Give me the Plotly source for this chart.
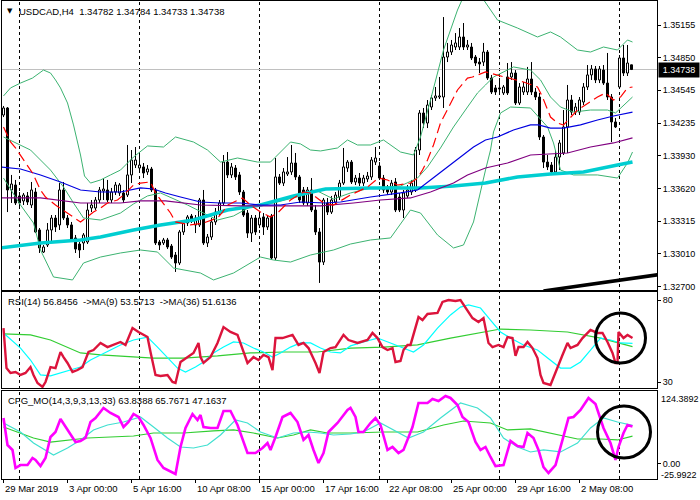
import plotly.graph_objects as go

# ---------------- data ----------------
symbol = "USDCAD,H4"

open_ = [1.34311, 1.34377, 1.33608, 1.33655, 1.33552, 1.33505, 1.33552, 1.33467, 1.33589, 1.33233,
         1.33026, 1.33092, 1.33233, 1.33345, 1.33280, 1.33608, 1.33345, 1.33280, 1.33158, 1.33101,
         1.33111, 1.33120, 1.33439, 1.33439, 1.33514, 1.33598, 1.33608, 1.33514, 1.33589, 1.33580,
         1.33580, 1.33561, 1.33749, 1.33842, 1.33814, 1.33824, 1.33777, 1.33805, 1.33608, 1.33120,
         1.33111, 1.33139, 1.33082, 1.32998, 1.32923, 1.33214, 1.33298, 1.33364, 1.33280, 1.33280,
         1.33514, 1.33111, 1.33167, 1.33308, 1.33401, 1.33486, 1.33870, 1.33749, 1.33814, 1.33749,
         1.33589, 1.33392, 1.33204, 1.33345, 1.33280, 1.33355, 1.33261, 1.33364, 1.32970, 1.33730,
         1.33673, 1.33758, 1.33777, 1.33861, 1.33730, 1.33608, 1.33486, 1.33608, 1.33420, 1.33214,
         1.32932, 1.33486, 1.33401, 1.33495, 1.33542, 1.33673, 1.33814, 1.33870, 1.33683, 1.33720,
         1.33673, 1.33711, 1.33730, 1.33870, 1.33833, 1.33720, 1.33627, 1.33589, 1.33683, 1.33542,
         1.33420, 1.33552, 1.33589, 1.33608, 1.33983, 1.34330, 1.34236, 1.34386, 1.34471, 1.34480,
         1.34480, 1.34855, 1.34902, 1.34949, 1.34949, 1.35043, 1.34949, 1.34949, 1.34855, 1.34808,
         1.34808, 1.34902, 1.34658, 1.34565, 1.34565, 1.34518, 1.34668, 1.34668, 1.34705, 1.34424,
         1.34527, 1.34527, 1.34649, 1.34527, 1.34480, 1.34105, 1.33870, 1.33842, 1.33777, 1.33917,
         1.33955, 1.34199, 1.34452, 1.34339, 1.34339, 1.34433, 1.34574, 1.34687, 1.34743, 1.34640,
         1.34733, 1.34611, 1.34480, 1.34246, 1.34574, 1.34846, 1.34705, 1.34782]
high = [1.34396, 1.34386, 1.33749, 1.33702, 1.33589, 1.33580, 1.33589, 1.33683, 1.33627, 1.33251,
        1.33092, 1.33298, 1.33373, 1.33373, 1.33673, 1.33683, 1.33373, 1.33308, 1.33186, 1.33120,
        1.33204, 1.33486, 1.33514, 1.33542, 1.33636, 1.33720, 1.33702, 1.33627, 1.33683, 1.33673,
        1.33608, 1.34030, 1.33983, 1.34011, 1.33964, 1.33861, 1.33842, 1.33824, 1.33627, 1.33139,
        1.33158, 1.33158, 1.33101, 1.33026, 1.33233, 1.33326, 1.33373, 1.33383, 1.33373, 1.33533,
        1.33608, 1.33195, 1.33345, 1.33439, 1.33514, 1.33936, 1.33964, 1.33861, 1.33842, 1.33777,
        1.33608, 1.33420, 1.33373, 1.33373, 1.33383, 1.33392, 1.33373, 1.33383, 1.33908, 1.33758,
        1.33814, 1.33917, 1.34030, 1.33955, 1.33749, 1.33636, 1.33636, 1.33720, 1.33467, 1.33251,
        1.33533, 1.33533, 1.33552, 1.33589, 1.33702, 1.34002, 1.33889, 1.33889, 1.33749, 1.33767,
        1.33749, 1.33777, 1.33917, 1.34011, 1.33870, 1.33749, 1.33655, 1.33702, 1.33720, 1.33580,
        1.33608, 1.33655, 1.33702, 1.34011, 1.34358, 1.34377, 1.34452, 1.34499, 1.34574, 1.34668,
        1.35230, 1.34987, 1.35015, 1.35080, 1.35127, 1.35174, 1.35015, 1.34987, 1.34874, 1.34846,
        1.34987, 1.34921, 1.34687, 1.34593, 1.34658, 1.34593, 1.34799, 1.34808, 1.34733, 1.34611,
        1.34621, 1.34762, 1.34808, 1.34565, 1.34518, 1.34124, 1.33936, 1.33870, 1.33983, 1.34077,
        1.34358, 1.34593, 1.34499, 1.34424, 1.34480, 1.34611, 1.34780, 1.34780, 1.34771, 1.34771,
        1.34780, 1.34893, 1.34508, 1.34283, 1.34874, 1.34968, 1.34968, 1.34784]
low = [1.34292, 1.33401, 1.33486, 1.33467, 1.33439, 1.33467, 1.33467, 1.33439, 1.33204, 1.33017,
       1.33017, 1.33073, 1.33111, 1.33214, 1.33233, 1.33326, 1.33251, 1.33120, 1.33017, 1.32970,
       1.33045, 1.33101, 1.33401, 1.33420, 1.33486, 1.33514, 1.33495, 1.33486, 1.33561, 1.33552,
       1.33486, 1.33542, 1.33673, 1.33814, 1.33777, 1.33720, 1.33749, 1.33589, 1.33092, 1.33045,
       1.33092, 1.33054, 1.32961, 1.32839, 1.32904, 1.33186, 1.33270, 1.33298, 1.33204, 1.33261,
       1.33092, 1.33073, 1.33139, 1.33280, 1.33373, 1.33467, 1.33720, 1.33720, 1.33702, 1.33561,
       1.33355, 1.33158, 1.33120, 1.33186, 1.33251, 1.33186, 1.33233, 1.32951, 1.32951, 1.33655,
       1.33645, 1.33739, 1.33749, 1.33702, 1.33486, 1.33467, 1.33458, 1.33401, 1.33186, 1.32736,
       1.32904, 1.33373, 1.33383, 1.33467, 1.33514, 1.33655, 1.33777, 1.33664, 1.33655, 1.33645,
       1.33645, 1.33683, 1.33702, 1.33842, 1.33702, 1.33580, 1.33561, 1.33561, 1.33401, 1.33401,
       1.33345, 1.33533, 1.33561, 1.33589, 1.33936, 1.34189, 1.34189, 1.34358, 1.34443, 1.34461,
       1.34377, 1.34808, 1.34874, 1.34921, 1.34921, 1.34921, 1.34921, 1.34827, 1.34771, 1.34705,
       1.34771, 1.34640, 1.34508, 1.34499, 1.34518, 1.34499, 1.34499, 1.34640, 1.34405, 1.34405,
       1.34499, 1.34499, 1.34499, 1.34452, 1.34077, 1.33814, 1.33795, 1.33749, 1.33758, 1.33795,
       1.33936, 1.33955, 1.34311, 1.34311, 1.34311, 1.34405, 1.34546, 1.34640, 1.34611, 1.34611,
       1.34593, 1.34452, 1.34058, 1.34189, 1.34565, 1.34677, 1.34677, 1.34733]
close = [1.34377, 1.33608, 1.33664, 1.33486, 1.33486, 1.33561, 1.33495, 1.33608, 1.33214, 1.33064,
         1.33073, 1.33233, 1.33345, 1.33261, 1.33608, 1.33345, 1.33280, 1.33139, 1.33054, 1.33045,
         1.33186, 1.33420, 1.33467, 1.33514, 1.33608, 1.33617, 1.33514, 1.33589, 1.33655, 1.33655,
         1.33514, 1.33749, 1.33889, 1.33889, 1.33842, 1.33767, 1.33805, 1.33608, 1.33111, 1.33092,
         1.33139, 1.33073, 1.32979, 1.32923, 1.33214, 1.33298, 1.33355, 1.33326, 1.33345, 1.33514,
         1.33111, 1.33167, 1.33308, 1.33401, 1.33486, 1.33870, 1.33749, 1.33824, 1.33730, 1.33589,
         1.33373, 1.33204, 1.33345, 1.33214, 1.33345, 1.33261, 1.33345, 1.32970, 1.33730, 1.33673,
         1.33777, 1.33777, 1.33861, 1.33730, 1.33514, 1.33486, 1.33608, 1.33420, 1.33214, 1.32932,
         1.33514, 1.33401, 1.33514, 1.33561, 1.33673, 1.33824, 1.33870, 1.33683, 1.33720, 1.33673,
         1.33720, 1.33739, 1.33889, 1.33908, 1.33720, 1.33608, 1.33589, 1.33673, 1.33420, 1.33420,
         1.33580, 1.33608, 1.33673, 1.33983, 1.34330, 1.34236, 1.34405, 1.34471, 1.34490, 1.34490,
         1.34855, 1.34902, 1.34968, 1.34987, 1.35043, 1.34949, 1.34968, 1.34846, 1.34799, 1.34790,
         1.34902, 1.34658, 1.34527, 1.34527, 1.34555, 1.34574, 1.34518, 1.34705, 1.34424, 1.34574,
         1.34574, 1.34649, 1.34527, 1.34480, 1.34105, 1.33870, 1.33824, 1.33777, 1.33917, 1.34049,
         1.34199, 1.34452, 1.34339, 1.34386, 1.34452, 1.34574, 1.34687, 1.34743, 1.34640, 1.34743,
         1.34611, 1.34480, 1.34246, 1.34199, 1.34846, 1.34705, 1.34799, 1.34738]

# Bollinger bands (bar position, price)
bb_up_bar = [0, 1.75, 4.25, 7.25, 10, 11.75, 13, 14.25, 16, 17.5, 19.25, 20.25, 21.75, 24.25, 26.75,
             29.25, 32.5, 36, 40, 43, 47.5, 51, 54.25, 58.5, 63.5, 66.75, 71.75, 74.25, 76.75, 79.25,
             83.5, 86, 88.5, 91.75, 95, 99.25, 102.5, 104.25, 106.75, 110, 113.5, 115.5, 118, 121, 123.5,
             128.5, 133.5, 136.75, 139.25, 143.5, 146.75, 150, 153.5, 156, 157.25]
bb_up = [1.34490, 1.34565, 1.34611, 1.34658, 1.34733, 1.34705, 1.34640, 1.34565, 1.34424, 1.34218,
         1.33936, 1.33739, 1.33673, 1.33702, 1.33749, 1.33795, 1.33917, 1.34021, 1.34011, 1.34105,
         1.34058, 1.33983, 1.33870, 1.33908, 1.33870, 1.33870, 1.34058, 1.34040, 1.33983, 1.33974,
         1.34002, 1.34077, 1.34030, 1.34030, 1.34077, 1.33964, 1.33936, 1.34105, 1.34452, 1.34921,
         1.35296, 1.35465, 1.35503, 1.35343, 1.35202, 1.35127, 1.35043, 1.35090, 1.35043, 1.34921,
         1.34902, 1.34949, 1.34921, 1.35015, 1.34996]
bb_mid_bar = [0, 6.75, 11.75, 15, 17.5, 20, 24.25, 29.25, 32.5, 36, 39.25, 46, 53.5, 57.5, 62.5, 67.5,
              74.25, 78.5, 82.5, 86.75, 91.75, 99.25, 103.5, 106, 109.25, 112.5, 116, 118.5, 120.5,
              122.5, 127.5, 131.75, 134.25, 136.75, 139.25, 142.5, 146.75, 151, 153, 155, 157.25]
bb_mid = [1.34105, 1.33983, 1.33795, 1.33636, 1.33486, 1.33345, 1.33326, 1.33392, 1.33477, 1.33552,
          1.33580, 1.33467, 1.33326, 1.33364, 1.33467, 1.33486, 1.33552, 1.33598, 1.33523, 1.33580,
          1.33627, 1.33645, 1.33720, 1.33824, 1.34002, 1.34199, 1.34386, 1.34518, 1.34593, 1.34668,
          1.34762, 1.34733, 1.34640, 1.34480, 1.34386, 1.34339, 1.34358, 1.34358, 1.34330, 1.34405,
          1.34480]
bb_lo_bar = [0, 4.25, 7.5, 9.25, 12.5, 17.25, 20, 24.25, 29.25, 34.25, 38.5, 42.5, 49.25, 52.5, 57.5,
             64.25, 67.5, 71.75, 76.75, 82.5, 86.75, 91.75, 96.75, 101.75, 104.25, 108.5, 112.5, 115,
             117.5, 119.25, 120.5, 121.75, 122.5, 124.25, 126.75, 131.75, 136, 137.5, 139.25, 142.5,
             148.5, 153.5, 156, 157.25]
bb_lo = [1.33720, 1.33467, 1.33298, 1.33045, 1.32792, 1.32764, 1.32923, 1.32979, 1.33017, 1.33045,
         1.33026, 1.32876, 1.32829, 1.32764, 1.32829, 1.32979, 1.32951, 1.32932, 1.32998, 1.33045,
         1.33101, 1.33139, 1.33158, 1.33420, 1.33392, 1.33186, 1.33064, 1.33092, 1.33308, 1.33608,
         1.33795, 1.33983, 1.34152, 1.34330, 1.34386, 1.34377, 1.34199, 1.34049, 1.33795, 1.33749,
         1.33749, 1.33720, 1.33861, 1.33964]

# moving averages
red_bar = [0, 1.75, 3, 6, 7.25, 9.25, 10.5, 13, 16, 19.25, 22.5, 24.25, 26, 28.5, 30, 32.5, 34.25,
           36.75, 38, 39.25, 41.75, 43, 46.75, 50, 53.5, 54.75, 56, 59.75, 61.75, 64.25, 66.75, 68.5,
           71.75, 75, 76.75, 80, 82.5, 86.75, 91, 93.75, 96, 98.5, 101.75, 103.5, 104.75, 106, 107.5,
           109.25, 111.25, 112.25, 113.5, 116, 117.25, 120.5, 123.5, 126, 130, 133.5, 134.75, 136.75,
           138.5, 140, 141.75, 143.5, 148.5, 150.5, 152.5, 154.25, 156, 157.25]
red_ma = [1.34199, 1.34058, 1.34002, 1.33842, 1.33767, 1.33608, 1.33542, 1.33467, 1.33392, 1.33308,
          1.33401, 1.33439, 1.33486, 1.33514, 1.33561, 1.33655, 1.33673, 1.33683, 1.33580, 1.33514,
          1.33392, 1.33308, 1.33280, 1.33298, 1.33345, 1.33401, 1.33467, 1.33533, 1.33467, 1.33401,
          1.33355, 1.33392, 1.33514, 1.33589, 1.33580, 1.33486, 1.33467, 1.33561, 1.33636, 1.33720,
          1.33702, 1.33655, 1.33673, 1.33720, 1.33795, 1.33889, 1.34030, 1.34236, 1.34386, 1.34452,
          1.34546, 1.34658, 1.34668, 1.34715, 1.34687, 1.34658, 1.34621, 1.34574, 1.34480, 1.34292,
          1.34236, 1.34218, 1.34292, 1.34358, 1.34480, 1.34518, 1.34452, 1.34480, 1.34565, 1.34574]
blue_bar = [-0.75, 4.25, 9.25, 14.25, 19.25, 24.25, 29.25, 34.25, 37.5, 40.5, 44.25, 49.25, 54.25,
            59.25, 64.25, 69.25, 74.25, 80.5, 84.25, 91.75, 99.25, 103.5, 106.75, 110, 114.25, 117.5,
            120.5, 123.5, 127.5, 131.75, 133.75, 136.75, 140, 144.25, 148.5, 152.5, 157.25]
blue_ma = [1.33824, 1.33805, 1.33749, 1.33683, 1.33608, 1.33589, 1.33589, 1.33627, 1.33617, 1.33580,
           1.33542, 1.33495, 1.33486, 1.33486, 1.33467, 1.33467, 1.33495, 1.33486, 1.33495, 1.33542,
           1.33580, 1.33608, 1.33702, 1.33795, 1.33917, 1.34011, 1.34077, 1.34105, 1.34171, 1.34218,
           1.34218, 1.34189, 1.34189, 1.34218, 1.34264, 1.34302, 1.34339]
purple_bar = [-0.75, 9.25, 19.25, 29.25, 34.25, 40.5, 49.25, 59.25, 69.25, 79.25, 87.5, 94.25, 101.75,
              106.75, 112.5, 116, 120.5, 126, 131.75, 135, 141, 146.75, 152.5, 157.25]
purple_ma = [1.33533, 1.33533, 1.33486, 1.33486, 1.33505, 1.33505, 1.33467, 1.33458, 1.33458, 1.33458,
             1.33486, 1.33514, 1.33533, 1.33589, 1.33673, 1.33749, 1.33814, 1.33861, 1.33936, 1.33945,
             1.33955, 1.34011, 1.34049, 1.34096]
cyan_bar = [-0.75, 9.25, 19.25, 24.25, 32.5, 39.25, 47.5, 56, 64.25, 72.5, 80.5, 91.75, 104.25, 112.5,
            120.5, 128.5, 136.75, 145, 153.5, 157.25]
cyan_ma = [1.33064, 1.33111, 1.33139, 1.33167, 1.33233, 1.33280, 1.33326, 1.33420, 1.33467, 1.33552,
           1.33617, 1.33627, 1.33627, 1.33645, 1.33673, 1.33730, 1.33758, 1.33777, 1.33842, 1.33870]
trend_bar = [135, 164]
trend_price = [1.32660, 1.32815]

# RSI(14) with MA(9) and MA(36)
rsi_bar = [0, 0.75, 1.75, 3, 4.25, 5.5, 6.75, 7.5, 8.5, 9.75, 10.5, 11.75, 13, 14.25, 15, 16, 17.25,
           18.5, 19.75, 21.25, 22.5, 24.25, 26, 27.5, 29.25, 30.5, 32.25, 33.75, 36, 36.75, 38, 39.25,
           41, 42.25, 43, 44.25, 46, 47.5, 48.75, 49.25, 50, 51.75, 53.5, 55, 56.75, 58.5, 61, 62.5,
           63.75, 65, 66.25, 67.25, 68, 69.75, 72.25, 73.75, 75, 76.25, 78, 79, 80, 81.75, 83, 85,
           86.25, 88.5, 91, 92.25, 93.5, 94.75, 96, 97.25, 98, 99.25, 100, 101, 101.75, 103, 103.75,
           104.75, 106, 108.5, 109.75, 111.25, 113, 114.25, 116, 117.25, 118.75, 120, 121.25, 122.25,
           123.75, 125, 126, 127.25, 128, 128.75, 130, 131, 132.25, 133.5, 134.25, 135, 136.75, 138,
           139.75, 141, 141.75, 143.5, 144.75, 146.75, 148.5, 149.75, 151, 152.25, 153, 153.5, 153.75,
           155, 156, 157.25]
rsi = [62.9, 38.5, 35.5, 36.1, 34.3, 35.5, 39.1, 34.3, 29.4, 27.0,
       30.0, 39.1, 38.5, 48.3, 45.2, 41.6, 36.1, 37.3, 39.1, 48.3,
       49.5, 53.8, 51.3, 52.6, 54.4, 52.6, 62.9, 60.5, 57.4, 48.3,
       34.3, 33.7, 34.3, 30.0, 29.4, 42.2, 45.2, 47.7, 53.8, 45.2,
       41.6, 45.2, 53.8, 63.5, 60.5, 58.7, 41.6, 45.2, 43.4, 46.5,
       45.2, 37.3, 56.8, 56.8, 58.7, 52.6, 53.8, 50.7, 41.6, 35.5,
       48.3, 50.7, 51.3, 58.7, 55.6, 53.8, 55.6, 59.9, 56.8, 51.3,
       49.5, 50.7, 42.2, 42.8, 49.5, 52.6, 52.6, 62.9, 69.6, 67.8,
       71.5, 72.1, 78.8, 80.0, 79.4, 80.0, 73.9, 69.0, 66.6, 69.0,
       53.8, 51.3, 52.6, 51.3, 57.4, 56.8, 45.9, 51.3, 51.3, 54.4,
       50.7, 44.6, 34.3, 29.4, 28.2, 36.1, 46.5, 53.8, 50.7, 52.6,
       56.8, 61.7, 59.9, 59.9, 54.4, 47.7, 41.6, 41.6, 60.5, 56.8,
       58.7, 56.8456]
rsi9_bar = [0, 4.25, 6.75, 9.25, 11.75, 14.25, 16.75, 19.25, 21.75, 24.25, 26.75, 29.25, 32.5, 36,
            38.5, 41, 43.5, 45.5, 48, 50, 52.5, 55, 57.5, 60, 62.5, 65, 67.25, 69.25, 71.75, 74.25,
            76.75, 79.25, 81.75, 84.25, 86.75, 90, 93.5, 96.75, 100, 102.5, 105, 108.5, 111.75, 114.25,
            116.25, 119.25, 121.75, 124.25, 126.75, 130, 133.5, 136.75, 139.25, 141.75, 144.25, 146.75,
            149.25, 151.75, 154.25, 157.25]
rsi9 = [59.9, 50.7, 43.4, 34.3, 33.7, 35.5, 37.3, 39.1, 43.4, 46.5,
        49.5, 52.6, 55.6, 57.4, 51.3, 44.6, 38.5, 36.1, 39.1, 42.2,
        47.7, 51.3, 54.4, 53.8, 50.7, 48.3, 45.2, 47.7, 51.3, 53.8,
        53.8, 50.7, 48.3, 47.7, 52.0, 54.4, 56.8, 53.8, 50.7, 48.3,
        52.6, 62.9, 70.9, 75.7, 77.0, 75.1, 67.8, 60.5, 56.8, 52.6,
        49.5, 43.4, 38.5, 38.5, 42.2, 49.5, 56.8, 55.6, 53.8, 53.5713]
rsi36_bar = [0, 6.75, 11.75, 16, 19.25, 24.25, 32.5, 37.5, 45, 53.5, 61.75, 70, 78.5, 86.75, 95,
             103.5, 111.75, 120, 124.25, 131.75, 141, 149.25, 157.25]
rsi36 = [59.3, 58.7, 55.6, 51.3, 47.7, 46.5, 45.2, 44.6, 44.6, 45.9, 47.7, 48.3, 48.3, 50.7, 51.3,
         52.6, 56.8, 60.5, 62.3, 61.7, 60.5, 56.8, 51.6136]

# CFG_MO(14,3,9,3,13,33)
cfg_bar = [0, 1, 2.25, 3, 4.25, 6, 7.25, 8, 9.25, 10.5, 11.75, 13, 14.25, 15.5, 16.75, 18, 19.25, 20.5,
           21.75, 23, 25, 26.75, 28.75, 30, 31.25, 32.5, 33.75, 35, 36.75, 38.5, 40, 41.75, 43, 44.25,
           45.5, 47.25, 48.5, 49.25, 50, 51.75, 53.5, 55, 56.75, 58.5, 60, 61, 63, 64.75, 66, 66.75,
           68, 69.75, 71.75, 73.5, 75, 76.25, 77.5, 78.75, 80, 81.25, 83.5, 86, 86.75, 88, 88.75, 90,
           91.75, 93, 94.25, 96, 97.25, 98.75, 100, 102.25, 103.75, 106, 107.25, 108.75, 110.5, 111.75,
           113.5, 114.75, 116.25, 118, 119.25, 120.5, 121.75, 123, 125, 126.75, 128.5, 130, 131, 132.5,
           133.75, 135, 136.25, 138, 139.75, 141.25, 142.5, 144.25, 146.25, 148, 150, 151.75, 153,
           153.75, 155, 156, 157.25]
cfg_mo = [78.3, 32.1, 23.6, -7.2, -2.1, -2.1, 9.9, 6.5, -3.8, 9.9,
          45.8, 54.3, 76.6, 62.9, 49.2, 37.2, 39.0, 44.1, 71.4, 78.3,
          95.4, 86.8, 80.0, 62.9, 71.4, 85.1, 80.0, 66.3, 44.1, 6.5,
          -7.2, -14.0, -17.5, 28.7, 61.2, 85.1, 74.9, 83.4, 62.9, 61.2,
          61.2, 90.2, 90.2, 66.3, 37.2, 18.4, 18.4, 27.0, 35.5, 23.6,
          45.8, 80.0, 86.8, 71.4, 40.7, 49.2, 23.6, 1.4, 18.4, 54.3,
          69.7, 91.9, 95.4, 80.0, 54.3, 54.3, 69.7, 78.3, 66.3, 23.6,
          28.7, 18.4, 23.6, 62.9, 103.9, 103.9, 110.8, 107.3, 115.9, 112.5,
          100.5, 80.0, 71.4, 37.2, 23.6, 28.7, 11.6, -3.8, -2.1, 39.0,
          30.4, 28.7, 52.6, 44.1, 23.6, -5.5, -15.7, -2.1, 40.7, 78.3,
          80.0, 91.9, 112.5, 102.2, 61.2, 35.5, 6.5, 28.7, 52.6, 66.3,
          63.8388]
cfg_sig_bar = [0, 4.25, 7.5, 12.5, 16, 19.25, 22.5, 26, 30, 34.25, 37.5, 41, 44.25, 47.5, 51, 54.25,
               58, 61, 64.25, 68.5, 72.5, 76, 79.25, 82.5, 86.75, 90, 94.25, 97.5, 101.25, 105, 109.25,
               114.25, 118.5, 121.75, 125, 128.5, 131.75, 135, 139.25, 143.5, 146.75, 150, 153.5, 157.25]
cfg_sig = [69.7, 54.3, 35.5, 15.0, 27.0, 40.7, 57.8, 66.3, 71.4, 80.0,
           62.9, 44.1, 28.7, 27.0, 32.1, 49.2, 74.9, 69.7, 54.3, 44.1,
           52.6, 54.3, 52.6, 49.2, 50.9, 54.3, 69.7, 57.8, 44.1, 54.3,
           78.3, 103.9, 95.4, 78.3, 44.1, 28.7, 20.2, 23.6, 20.2, 35.5,
           61.2, 78.3, 71.4, 65.7671]
cfg_slow_bar = [0, 4.25, 7.5, 11.75, 16, 21, 26.75, 32.5, 37.5, 45, 52.5, 57.5, 62.5, 68.5, 72.5,
                76.75, 81, 86.75, 95, 103.5, 110, 115, 121.75, 126, 131.75, 138.5, 143.5, 149.25,
                153.5, 157.25]
cfg_slow = [62.9, 52.6, 44.1, 37.2, 40.7, 44.1, 45.8, 47.5, 52.6, 52.6, 56.1, 57.8, 52.6, 44.1, 49.2,
            57.8, 52.6, 52.6, 54.3, 54.3, 66.3, 73.1, 69.7, 57.8, 59.5, 49.2, 42.4, 42.4, 40.7, 47.1637]
cfg_min, cfg_max = -25.9922, 124.3892

# analyst marks: circled area (bar from, bar to, value low, value high)
rsi_circle = [148.0, 160.5, 41.6, 72.1]
cfg_circle = [148.5, 161.75, 9.9, 98.8]

price_ticks = [1.35155, 1.34850, 1.34545, 1.34235, 1.33930, 1.33620, 1.33315, 1.33010, 1.32700]
rsi_ticks = [30, 80]
time_tick_bars = [0, 16, 32, 48, 64, 80, 96, 112, 128, 144]
time_tick_labels = ["29 Mar 2019", "3 Apr 00:00", "5 Apr 16:00", "10 Apr 08:00", "15 Apr 00:00",
                    "17 Apr 16:00", "22 Apr 08:00", "25 Apr 00:00", "29 Apr 16:00", "2 May 08:00"]
week_bars = [4, 34, 64, 94, 124, 154]

# ---------------- layout constants ----------------
W, H = 700, 500
XL, XR = 2, 657
P_MAIN, P_RSI, P_CFG = (1, 290), (292, 388), (391, 479)
FONT = "Liberation Sans, Arial, DejaVu Sans, sans-serif"
FS = 9.5
FS_AX = 9
NB = "\u00a0"


def dom(p):
    return [1 - p[1] / H, 1 - p[0] / H]


fig = go.Figure()

# candles: wicks split around the body, bodies as bars
bars = list(range(len(open_)))
wx, wy = [], []
for i, (o, h, l, c) in enumerate(zip(open_, high, low, close)):
    top, bot = max(o, c), min(o, c)
    wx += [i, i, None, i, i, None]
    wy += [h, top, None, bot, l, None]
fig.add_trace(go.Scatter(x=wx, y=wy, mode="lines", line=dict(color="black", width=1),
                         hoverinfo="skip", xaxis="x", yaxis="y"))
fig.add_trace(go.Bar(x=bars, y=[abs(c - o) for o, c in zip(open_, close)],
                     base=[min(o, c) for o, c in zip(open_, close)], width=0.5,
                     marker=dict(color=["white" if c >= o else "black" for o, c in zip(open_, close)],
                                 line=dict(color="black", width=1)),
                     hoverinfo="skip", xaxis="x", yaxis="y"))


def line(xs, ys, color, width, ax="", dash=None):
    fig.add_trace(go.Scatter(x=xs, y=ys, mode="lines", hoverinfo="skip",
                             line=dict(color=color, width=width, dash=dash),
                             xaxis="x" + ax, yaxis="y" + ax))


line(bb_up_bar, bb_up, "#3CB371", 1)
line(bb_mid_bar, bb_mid, "#3CB371", 1)
line(bb_lo_bar, bb_lo, "#3CB371", 1)
line(cyan_bar, cyan_ma, "#00CED1", 3.5)
line(purple_bar, purple_ma, "#800080", 1.2)
line(blue_bar, blue_ma, "#0000E0", 1.2)
line(red_bar, red_ma, "#FF0000", 1.2, dash="10px,5px")
line(trend_bar, trend_price, "black", 3.5)

line(rsi36_bar, rsi36, "#32CD32", 1.2, "2")
line(rsi9_bar, rsi9, "#00FFFF", 1.2, "2")
line(rsi_bar, rsi, "#DC143C", 2.4, "2")

line(cfg_slow_bar, cfg_slow, "#32CD32", 1.2, "3")
line(cfg_sig_bar, cfg_sig, "#40E0D0", 1.2, "3")
line(cfg_bar, cfg_mo, "#FF00FF", 2.6, "3")

# x range offset by half a pixel so 1px wicks land on pixel centres
xcommon = dict(range=[-0.375, 163.375], domain=[XL / W, XR / W], showline=True, mirror=True,
               linecolor="black", linewidth=1, showgrid=False, zeroline=False,
               showticklabels=False, automargin=False, fixedrange=True)
ycommon = dict(side="right", showline=True, mirror=True, linecolor="black", linewidth=1,
               showgrid=False, zeroline=False, ticks="outside", ticklen=3, tickcolor="black",
               tickfont=dict(family=FONT, size=FS_AX, color="black"), automargin=False,
               fixedrange=True)

shapes = []
for b in week_bars:
    shapes.append(dict(type="line", xref="x", yref="paper", x0=b, x1=b,
                       y0=1 - P_CFG[1] / H, y1=1 - P_MAIN[0] / H,
                       line=dict(color="black", width=1, dash="3px,3px"), layer="below"))
shapes.append(dict(type="line", xref="x domain", yref="y", x0=0, x1=1, y0=close[-1], y1=close[-1],
                   line=dict(color="#C0C0C0", width=1), layer="below"))
for c, ax in ((rsi_circle, "2"), (cfg_circle, "3")):
    shapes.append(dict(type="circle", xref="x" + ax, yref="y" + ax, x0=c[0], x1=c[1], y0=c[2], y1=c[3],
                       line=dict(color="black", width=3)))

ann = []
tf = dict(family=FONT, size=FS, color="black")
af = dict(family=FONT, size=FS_AX, color="black")
ann.append(dict(xref="paper", yref="paper", x=10 / W, y=1 - 11 / H, text="\u25bc", showarrow=False,
                font=dict(family="DejaVu Sans", size=7, color="black"), xanchor="center", yanchor="middle"))
head = f"{symbol}{NB}{NB}" + " ".join(f"{v:.5f}" for v in (open_[-1], high[-1], low[-1], close[-1]))
ann.append(dict(xref="paper", yref="paper", x=17 / W, y=1 - 11 / H, text=head, showarrow=False,
                font=tf, xanchor="left", yanchor="middle"))
rsi_txt = (f"RSI(14) {rsi[-1]:.4f}{NB}{NB}-&gt;MA(9) {rsi9[-1]:.4f}{NB}{NB}-&gt;MA(36) {rsi36[-1]:.4f}")
ann.append(dict(xref="paper", yref="paper", x=6 / W, y=1 - 301.5 / H, text=rsi_txt, showarrow=False,
                font=tf, xanchor="left", yanchor="middle"))
cfg_txt = f"CFG_MO(14,3,9,3,13,33) {cfg_mo[-1]:.4f} {cfg_sig[-1]:.4f} {cfg_slow[-1]:.4f}"
ann.append(dict(xref="paper", yref="paper", x=6 / W, y=1 - 400.5 / H, text=cfg_txt, showarrow=False,
                font=tf, xanchor="left", yanchor="middle"))
for b, t in zip(time_tick_bars, time_tick_labels):
    ann.append(dict(xref="x3", yref="paper", x=b, y=1 - 488 / H, text=t, showarrow=False, font=tf,
                    xanchor="left", yanchor="middle", xshift=-1))
ann.append(dict(xref="paper", yref="y3", x=XR / W, y=cfg_max, text=f"{cfg_max:.4f}", showarrow=False,
                font=af, xanchor="left", yanchor="top", xshift=2, yshift=-1))
ann.append(dict(xref="paper", yref="y3", x=XR / W, y=cfg_min, text=f"{cfg_min:.4f}", showarrow=False,
                font=af, xanchor="left", yanchor="bottom", xshift=2, yshift=-3))
ann.append(dict(xref="paper", yref="y", x=XR / W, y=close[-1], text=f"{close[-1]:.5f}", showarrow=False,
                font=dict(family=FONT, size=FS_AX, color="white"), bgcolor="black", xanchor="left",
                yanchor="middle", xshift=1, width=36, borderpad=2))

fig.update_layout(
    template="none", width=W, height=H, margin=dict(l=0, r=0, t=0, b=0),
    paper_bgcolor="white", plot_bgcolor="rgba(0,0,0,0)", showlegend=False, barmode="overlay",
    font=dict(family=FONT, size=FS, color="black"),
    xaxis=dict(**xcommon, anchor="y"),
    xaxis2=dict(**xcommon, anchor="y2", matches="x"),
    xaxis3=dict(**xcommon, anchor="y3", matches="x", ticks="outside", tickvals=time_tick_bars,
                ticklen=3, tickcolor="black"),
    yaxis=dict(**ycommon, anchor="x", domain=dom(P_MAIN), range=[1.326698, 1.353806],
               tickvals=price_ticks, ticktext=[f"{v:.5f}" for v in price_ticks]),
    yaxis2=dict(**ycommon, anchor="x2", domain=dom(P_RSI), range=[26.34, 84.88],
                tickvals=rsi_ticks, ticktext=[str(v) for v in rsi_ticks]),
    yaxis3=dict(**ycommon, anchor="x3", domain=dom(P_CFG), range=[cfg_min, cfg_max],
                tickvals=[0], ticktext=["0.00"]),
    shapes=shapes, annotations=ann,
)

fig.write_html("out.html", config={"displayModeBar": False},
               post_script="document.body.style.margin='0';document.body.style.overflow='hidden';")
